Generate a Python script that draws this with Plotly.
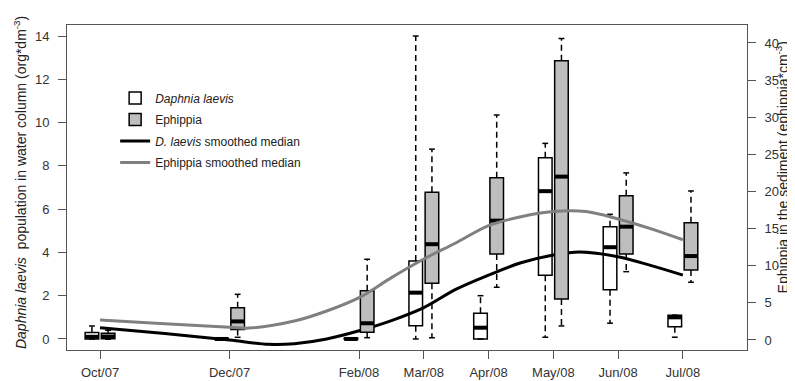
import plotly.graph_objects as go

# ---- data ----
month_pos = [0, 2, 4, 5, 6, 7, 8, 9]
month_labels = ["Oct/07", "Dec/07", "Feb/08", "Mar/08", "Apr/08", "May/08", "Jun/08", "Jul/08"]

# Daphnia laevis (org*dm-3), left axis
daph_min = [0.0, 0.0, 0.0, 0.0, 0.0, 0.08, 0.73, 0.08]
daph_q1 = [0.0, 0.0, 0.0, 0.61, 0.0, 2.94, 2.28, 0.57]
daph_med = [0.1, 0.0, 0.0, 2.14, 0.52, 6.83, 4.24, 1.0]
daph_q3 = [0.3, 0.03, 0.03, 3.6, 1.19, 8.38, 5.19, 1.1]
daph_max = [0.6, 0.03, 0.03, 14.0, 2.0, 9.04, 5.76, 1.1]

# Ephippia (ephippia*cm-3), right axis
eph_min = [0.1, 0.36, 0.31, 0.3, 7.1, 1.89, 9.2, 7.77]
eph_q1 = [0.15, 1.4, 1.04, 7.64, 11.58, 5.52, 11.58, 9.43]
eph_med = [0.45, 2.5, 2.25, 12.9, 16.07, 22.0, 15.26, 11.3]
eph_q3 = [0.9, 4.35, 6.64, 19.9, 21.86, 37.6, 19.43, 15.8]
eph_max = [1.3, 6.15, 10.87, 25.7, 30.3, 40.6, 22.5, 20.07]

# smoothed medians
daph_smooth_x = [0, 1, 2, 2.6, 3, 3.5, 4, 4.5, 5, 5.5, 6, 6.5, 7, 7.4, 8, 8.5, 9]
daph_smooth_y = [0.52, 0.25, -0.05, -0.25, -0.22, 0.0, 0.38, 0.85, 1.45, 2.3, 2.95, 3.52, 3.88, 4.02, 3.8, 3.4, 2.95]
eph_smooth_x = [0, 1, 2, 2.3, 3, 3.5, 4, 4.5, 5, 5.5, 6, 6.5, 7, 7.5, 8, 8.5, 9]
eph_smooth_y = [2.69, 2.2, 1.72, 1.6, 2.55, 3.9, 5.7, 8.4, 10.9, 13.1, 15.4, 16.6, 17.3, 17.3, 16.3, 15.0, 13.5]

left_title = "<i>Daphnia laevis</i>  population in water column (org*dm<sup>-3</sup>)"
right_title = "Ephippia in the sediment (ephippia*cm<sup>-3</sup>)"

# ---- style ----
OFFSET = 0.125
BOXW = 0.21
CAPW = 0.045
FONT = "Liberation Sans, Arial, sans-serif"
GREY_FILL = "#bebebe"
GREY_LINE = "#808080"
DASH = "6px,4px"

fig = go.Figure()


def add_group(pos, mn, q1, med, q3, mx, fill, yaxis, name, rank):
    fig.add_trace(go.Box(
        x=pos, q1=q1, median=med, q3=q3, lowerfence=q1, upperfence=q3,
        width=BOXW, whiskerwidth=0, fillcolor=fill,
        line=dict(color="black", width=1.5), boxpoints=False,
        yaxis=yaxis, name=name, legendrank=rank, legendgroup=name, showlegend=True,
        hoverinfo="skip"))
    wx, wy, cx, cy, mxs, mys = [], [], [], [], [], []
    for p, a, b, m, c, d in zip(pos, mn, q1, med, q3, mx):
        wx += [p, p, None, p, p, None]
        wy += [c, d, None, b, a, None]
        cx += [p - CAPW, p + CAPW, None, p - CAPW, p + CAPW, None]
        cy += [d, d, None, a, a, None]
        mxs += [p - BOXW / 2, p + BOXW / 2, None]
        mys += [m, m, None]
    fig.add_trace(go.Scatter(x=wx, y=wy, mode="lines", yaxis=yaxis, showlegend=False,
                             line=dict(color="black", width=1.5, dash=DASH), hoverinfo="skip"))
    fig.add_trace(go.Scatter(x=cx, y=cy, mode="lines", yaxis=yaxis, showlegend=False,
                             line=dict(color="black", width=1.5), hoverinfo="skip"))
    fig.add_trace(go.Scatter(x=mxs, y=mys, mode="lines", yaxis=yaxis, showlegend=False,
                             line=dict(color="black", width=4), hoverinfo="skip"))


daph_pos = [m - OFFSET for m in month_pos]
eph_pos = [m + OFFSET for m in month_pos]

add_group(daph_pos, daph_min, daph_q1, daph_med, daph_q3, daph_max, "white", "y",
          "<i>Daphnia laevis</i>", 1)
fig.add_trace(go.Scatter(x=daph_smooth_x, y=daph_smooth_y, mode="lines", yaxis="y",
                         line=dict(color="black", width=3, shape="spline", smoothing=1),
                         name="<i>D. laevis</i> smoothed median", legendgroup="dl",
                         legendrank=3, hoverinfo="skip"))
add_group(eph_pos, eph_min, eph_q1, eph_med, eph_q3, eph_max, GREY_FILL, "y2",
          "Ephippia", 2)
fig.add_trace(go.Scatter(x=eph_smooth_x, y=eph_smooth_y, mode="lines", yaxis="y2",
                         line=dict(color=GREY_LINE, width=3, shape="spline", smoothing=1),
                         name="Ephippia smoothed median", legendgroup="el",
                         legendrank=4, hoverinfo="skip"))

axis_common = dict(showgrid=False, zeroline=False, ticks="outside", ticklen=8,
                   tickcolor="#555", linecolor="#555", linewidth=1, automargin=False,
                   tickfont=dict(family=FONT, size=13, color="#333"))

# page body has an 8px default margin, so the figure is 8px smaller than the window
fig.update_layout(
    width=787, height=373,
    margin=dict(l=59, r=48, t=17, b=31, autoexpand=False),
    paper_bgcolor="white", plot_bgcolor="white",
    font=dict(family=FONT, size=12, color="#222"),
    xaxis=dict(range=[-0.51, 9.99], tickmode="array", tickvals=month_pos,
               ticktext=month_labels, showline=True, mirror=True,
               ticklabelstandoff=2, **axis_common),
    yaxis=dict(range=[-0.51, 14.51], tickmode="array", tickvals=list(range(0, 15, 2)),
               showline=True, mirror=True, ticklabelstandoff=6, **axis_common),
    yaxis2=dict(range=[-1.35, 42.42], overlaying="y", side="right", tickmode="array",
                tickvals=list(range(0, 41, 5)), showline=True, ticklabelstandoff=6,
                **axis_common),
    legend=dict(x=0.0708, y=0.82, xanchor="left", yanchor="top", bgcolor="rgba(0,0,0,0)",
                font=dict(family=FONT, size=12, color="#222"), tracegroupgap=2.5),
    showlegend=True,
    annotations=[
        dict(text=left_title, xref="paper", yref="paper", x=-0.069, y=0.514,
             xanchor="center", yanchor="middle", textangle=-90, showarrow=False,
             font=dict(family=FONT, size=14, color="#222")),
        dict(text=right_title, xref="paper", yref="paper", x=1.052, y=0.563,
             xanchor="center", yanchor="middle", textangle=-90, showarrow=False,
             font=dict(family=FONT, size=14, color="#222")),
    ],
)

fig.write_html("out.html")
